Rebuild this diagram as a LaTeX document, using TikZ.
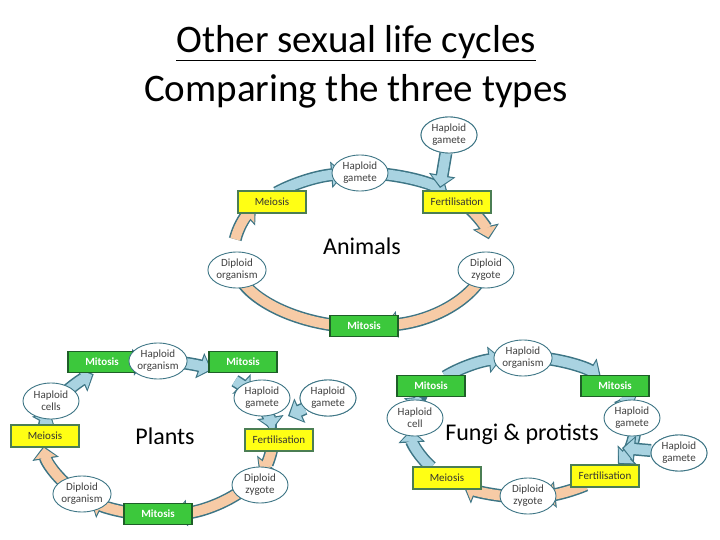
\documentclass[tikz,border=0pt]{standalone}
\usepackage{fontspec}
\setmainfont{Carlito}
\usetikzlibrary{arrows.meta,shapes.geometric}
\definecolor{bblue}{HTML}{A9D3E1}
\definecolor{bpeach}{HTML}{F7CBA6}
\definecolor{bedge}{HTML}{3D7585}
\definecolor{gfill}{HTML}{3CC83C}
\definecolor{gedge}{HTML}{1E5E28}
\definecolor{yfill}{HTML}{FFFF14}
\tikzset{
 oval/.style={ellipse,draw=bedge,fill=white,line width=0.9pt,inner sep=0pt,minimum width=56pt,minimum height=36pt,align=center,font=\fontsize{11}{12}\selectfont,text=black!75},
 gbox/.style={rectangle,draw=gedge,fill=gfill,line width=1.4pt,minimum width=68pt,minimum height=21pt,font=\fontsize{11}{12}\selectfont\bfseries,text=white},
 ybox/.style={rectangle,draw=gedge!80,fill=yfill,line width=1.4pt,minimum width=68pt,minimum height=22pt,font=\fontsize{11}{12}\selectfont,text=black!80},
 lbl/.style={font=\fontsize{24}{28}\selectfont},
}
\newcommand\band[7]{%
 \draw[line width=13pt,bedge,-{Triangle[width=26pt,length=13pt]}] ([shift={(#5:#3 and #4)}]#1,#2) arc[start angle=#5,end angle=#6,x radius=#3,y radius=#4];
 \draw[line width=10pt,#7,shorten >=1.8pt,-{Triangle[width=21pt,length=10pt]}] ([shift={(#5:#3 and #4)}]#1,#2) arc[start angle=#5,end angle=#6,x radius=#3,y radius=#4];}
\newcommand\outarrow[3]{%
 \draw[line width=13pt,bedge,-{Triangle[width=26pt,length=13pt]}] (#1) -- (#2);
 \draw[line width=10pt,#3,shorten >=1.8pt,-{Triangle[width=21pt,length=10pt]}] (#1) -- (#2);}
\begin{document}
\begin{tikzpicture}[x=1pt,y=-1pt]
\useasboundingbox[fill=white] (0,0) rectangle (720,540);
\node[font=\fontsize{39}{44}\selectfont] (t1) at (356,43) {\underline{Other sexual life cycles}};
\node[font=\fontsize{39}{44}\selectfont] (t2) at (356,91) {Comparing the three types};
% Animals
\band{362}{250}{128}{77}{228}{262}{bblue}
\band{362}{250}{128}{77}{278}{312}{bblue}
\band{362}{250}{128}{77}{325}{352}{bpeach}
\band{362}{250}{128}{77}{8}{80}{bpeach}
\band{362}{250}{128}{77}{100}{172}{bpeach}
\band{362}{250}{128}{77}{188}{214}{bpeach}
\node[oval] (ag0) at (449,135) {Haploid\\gamete};
\coordinate (af) at (440,188);
\outarrow{ag0}{af}{bblue}
\node[oval] (ag0b) at (449,135) {Haploid\\gamete};
\node[ybox] (ame) at (272,202) {Meiosis};
\node[ybox] (afe) at (457,202) {Fertilisation};
\node[gbox] (ami) at (364,326) {Mitosis};
\node[oval] (ag) at (360,173) {Haploid\\gamete};
\node[oval] (ao) at (237,270) {Diploid\\organism};
\node[oval] (az) at (486,270) {Diploid\\zygote};
\node[lbl] (al) at (362,246) {Animals};
% Plants
\band{158}{438}{115}{77}{185}{200}{bblue}
\band{158}{438}{115}{77}{214}{236}{bblue}
\band{158}{438}{115}{77}{250}{264}{bblue}
\band{158}{438}{115}{77}{276}{298}{bblue}
\band{158}{438}{115}{77}{312}{324}{bblue}
\band{158}{438}{115}{77}{338}{354}{bblue}
\band{158}{438}{115}{77}{6}{28}{bpeach}
\band{158}{438}{115}{77}{42}{82}{bpeach}
\band{158}{438}{115}{77}{98}{126}{bpeach}
\band{158}{438}{115}{77}{140}{174}{bpeach}
\node[oval] (pg2) at (328,398) {Haploid\\gamete};
\coordinate (pf) at (288,416);
\outarrow{pg2}{pf}{bblue}
\node[oval] (pg2b) at (328,398) {Haploid\\gamete};
\node[gbox] (pm1) at (102,362) {Mitosis};
\node[gbox] (pm2) at (243,362) {Mitosis};
\node[gbox] (pm3) at (158,514) {Mitosis};
\node[ybox] (pme) at (45,436) {Meiosis};
\node[ybox] (pfe) at (279,440) {Fertilisation};
\node[oval] (pho) at (158,361) {Haploid\\organism};
\node[oval] (pg) at (262,398) {Haploid\\gamete};
\node[oval] (phc) at (51,401) {Haploid\\cells};
\node[oval] (pz) at (260,485) {Diploid\\zygote};
\node[oval] (pdo) at (82,494) {Diploid\\organism};
\node[lbl] (pl) at (165,436) {Plants};
% Fungi
\band{523}{427}{112}{70}{145}{178}{bblue}
\band{523}{427}{112}{70}{196}{206}{bblue}
\band{523}{427}{112}{70}{226}{259}{bblue}
\band{523}{427}{112}{70}{281}{314}{bblue}
\band{523}{427}{112}{70}{334}{345}{bblue}
\band{523}{427}{112}{70}{361}{392}{bblue}
\band{523}{427}{112}{70}{56}{80}{bpeach}
\band{523}{427}{112}{70}{99}{122}{bpeach}
\node[oval] (fg2) at (679,453) {Haploid\\gamete};
\coordinate (ff) at (622,448);
\outarrow{fg2}{ff}{bblue}
\node[oval] (fg2b) at (679,453) {Haploid\\gamete};
\node[gbox] (fm1) at (431,386) {Mitosis};
\node[gbox] (fm2) at (615,386) {Mitosis};
\node[ybox] (fme) at (447,478) {Meiosis};
\node[ybox] (ffe) at (605,476) {Fertilisation};
\node[oval] (fho) at (523,358) {Haploid\\organism};
\node[oval] (fhc) at (415,418) {Haploid\\cell};
\node[oval] (fg) at (632,418) {Haploid\\gamete};
\node[oval] (fz) at (528,496) {Diploid\\zygote};
\node[lbl] (fl) at (522,434) {Fungi \& protists};
\end{tikzpicture}
\end{document}
